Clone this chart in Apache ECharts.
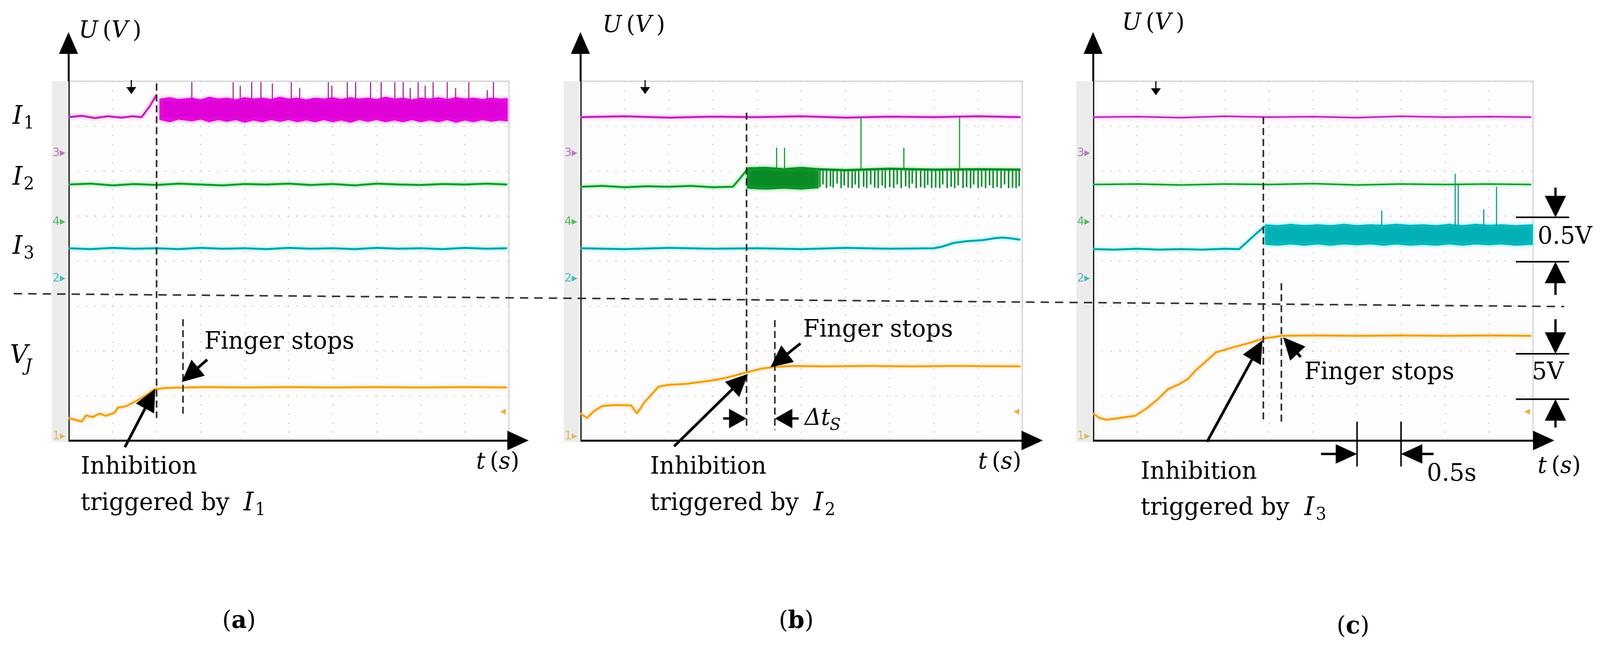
<!DOCTYPE html>
<html><head><meta charset="utf-8">
<script src="https://cdn.jsdelivr.net/npm/echarts/dist/echarts.min.js"></script>
<style>html,body{margin:0;padding:0;background:#fff;overflow:hidden}#wrap{position:absolute;left:0;top:0;width:4204px;height:1662px;transform-origin:0 0}#c{width:4204px;height:1662px}</style>
</head><body><div id="wrap"><div id="c"></div></div>
<script>
// ---------- axis structure (oscilloscope divisions) ----------
const xDivMax = 10;   // horizontal divisions (0.5 s / div)
const yDivMax = 8;    // vertical divisions
const panelNames = ['(a)', '(b)', '(c)'];
const triggerLabels = ['1', '2', '3'];

// ---------- panel (a) ----------
const aI1Line = [[0,7.2],[0.3,7.23],[0.6,7.18],[0.9,7.22],[1.2,7.19],[1.45,7.22],[1.66,7.2],[1.85,7.45],[2.0,7.7]];
const aI1Band = [[2.08,7.15,7.6],[2.3,7.1,7.63],[2.5,7.16,7.59],[2.8,7.12,7.62],[3.0,7.16,7.58],[3.2,7.1,7.64],[3.4,7.15,7.6],[3.6,7.11,7.62],[3.8,7.15,7.58],[4.0,7.09,7.63],[4.2,7.14,7.6],[4.4,7.1,7.62],[4.6,7.15,7.59],[4.8,7.11,7.64],[5.0,7.15,7.6],[5.2,7.1,7.62],[5.4,7.14,7.58],[5.6,7.1,7.62],[5.8,7.15,7.6],[6.0,7.1,7.63],[6.2,7.14,7.59],[6.4,7.09,7.63],[6.6,7.15,7.6],[6.8,7.11,7.62],[7.0,7.15,7.59],[7.2,7.1,7.64],[7.4,7.14,7.6],[7.6,7.1,7.62],[7.8,7.15,7.58],[8.0,7.1,7.62],[8.2,7.14,7.6],[8.4,7.1,7.63],[8.6,7.15,7.59],[8.8,7.09,7.63],[9.0,7.14,7.6],[9.2,7.1,7.62],[9.4,7.15,7.59],[9.6,7.11,7.62],[9.8,7.14,7.6],[9.96,7.12,7.61]];
const aI1Spikes = [[2.8,7.6,7.98],[3.74,7.6,7.98],[3.9,7.6,7.9],[4.16,7.6,7.98],[4.37,7.6,7.98],[4.63,7.6,7.95],[5.06,7.6,7.98],[5.25,7.6,7.85],[5.9,7.6,7.98],[5.98,7.6,7.9],[6.33,7.6,7.98],[6.52,7.6,7.98],[6.86,7.6,7.98],[7.1,7.6,7.98],[7.41,7.6,7.98],[7.6,7.6,7.98],[7.76,7.6,7.85],[7.94,7.6,7.98],[8.1,7.6,7.9],[8.28,7.6,7.98],[8.6,7.6,7.98],[8.79,7.6,7.85],[9.09,7.6,7.98],[9.51,7.6,7.8],[9.65,7.6,7.98]];
const aI2 = [[0,5.7],[0.5,5.72],[1,5.68],[1.5,5.71],[2,5.69],[2.5,5.72],[3,5.7],[3.5,5.68],[4,5.71],[4.5,5.7],[5,5.72],[5.5,5.69],[6,5.71],[6.5,5.68],[7,5.72],[7.5,5.7],[8,5.69],[8.5,5.71],[9,5.7],[9.5,5.72],[9.96,5.7]];
const aI3 = [[0,4.28],[0.5,4.26],[1,4.29],[1.5,4.27],[2,4.28],[2.5,4.26],[3,4.29],[3.5,4.27],[4,4.28],[4.5,4.26],[5,4.29],[5.5,4.27],[6,4.28],[6.5,4.26],[7,4.29],[7.5,4.27],[8,4.28],[8.5,4.26],[9,4.29],[9.5,4.27],[9.96,4.28]];
const aVJ = [[0,0.5],[0.2,0.45],[0.3,0.42],[0.4,0.56],[0.55,0.52],[0.7,0.6],[0.85,0.55],[1.05,0.62],[1.12,0.73],[1.3,0.76],[1.5,0.86],[1.75,1.0],[1.95,1.14],[2.2,1.17],[2.6,1.18],[3.2,1.19],[4,1.18],[5,1.19],[6,1.18],[7,1.19],[8,1.18],[9,1.19],[9.96,1.18]];

// ---------- panel (b) ----------
const bI1 = [[0,7.2],[1,7.22],[2,7.19],[3,7.21],[4,7.2],[5,7.22],[6,7.19],[7,7.21],[8,7.2],[9,7.22],[9.96,7.2]];
const bI2Line = [[0,5.65],[0.5,5.67],[1,5.64],[1.5,5.66],[2,5.65],[2.5,5.67],[3,5.64],[3.45,5.65],[3.6,5.82],[3.77,6.03]];
const bI2Band = [[3.78,5.62,6.07],[4.2,5.6,6.08],[4.6,5.62,6.05],[5.0,5.6,6.08],[5.38,5.63,6.05]];
const bI2Top = [[5.38,6.04],[6,6.02],[7,6.05],[8,6.03],[9,6.04],[9.96,6.03]];
const bI2Comb = [[5.42,5.64],[5.49,5.7],[5.57,5.62],[5.66,5.66],[5.72,5.63],[5.81,5.72],[5.9,5.62],[5.97,5.68],[6.06,5.63],[6.15,5.62],[6.22,5.7],[6.3,5.62],[6.41,5.65],[6.48,5.62],[6.57,5.7],[6.66,5.63],[6.74,5.62],[6.83,5.68],[6.9,5.62],[7.0,5.64],[7.09,5.62],[7.17,5.7],[7.26,5.62],[7.36,5.66],[7.44,5.62],[7.51,5.72],[7.6,5.62],[7.7,5.64],[7.79,5.62],[7.86,5.69],[7.95,5.62],[8.04,5.63],[8.13,5.62],[8.2,5.7],[8.3,5.62],[8.39,5.65],[8.47,5.62],[8.55,5.68],[8.66,5.62],[8.74,5.64],[8.83,5.62],[8.9,5.7],[9.0,5.62],[9.08,5.65],[9.17,5.62],[9.26,5.68],[9.34,5.62],[9.43,5.64],[9.52,5.62],[9.6,5.7],[9.69,5.62],[9.78,5.63],[9.86,5.62],[9.93,5.66]];
const bI2Spikes = [[4.44,6.05,6.52],[4.62,6.05,6.52],[6.35,6.05,7.2],[7.32,6.05,6.52],[8.58,6.05,7.2]];
const bI3 = [[0,4.28],[1,4.26],[2,4.29],[3,4.27],[4,4.28],[5,4.26],[6,4.29],[7,4.27],[8.0,4.28],[8.2,4.32],[8.45,4.4],[8.75,4.44],[9.1,4.46],[9.35,4.5],[9.55,4.52],[9.75,4.5],[9.96,4.47]];
const bVJ = [[0,0.6],[0.15,0.5],[0.3,0.65],[0.5,0.77],[0.8,0.79],[1.15,0.78],[1.22,0.68],[1.28,0.6],[1.45,0.85],[1.77,1.2],[2.0,1.24],[2.4,1.26],[2.7,1.3],[3.07,1.35],[3.4,1.42],[3.77,1.52],[4.1,1.6],[4.4,1.64],[4.8,1.66],[5.5,1.65],[6.5,1.66],[7.5,1.65],[8.5,1.66],[9.96,1.65]];

// ---------- panel (c) ----------
const cI1 = [[0,7.2],[1,7.21],[2,7.19],[3,7.22],[4,7.2],[5,7.21],[6,7.19],[7,7.22],[8,7.2],[9,7.21],[9.96,7.2]];
const cI2 = [[0,5.7],[1,5.71],[2,5.69],[3,5.71],[4,5.7],[5,5.72],[6,5.69],[7,5.71],[8,5.7],[9,5.71],[9.96,5.7]];
const cI3Line = [[0,4.26],[0.5,4.25],[1,4.27],[1.5,4.25],[2,4.26],[2.5,4.25],[3,4.27],[3.32,4.26],[3.5,4.42],[3.7,4.6],[3.9,4.77]];
const cI3Band = [[3.92,4.37,4.8],[4.2,4.35,4.78],[4.5,4.38,4.81],[4.8,4.35,4.78],[5.1,4.38,4.8],[5.4,4.35,4.78],[5.7,4.38,4.81],[6.0,4.36,4.78],[6.3,4.38,4.8],[6.6,4.35,4.79],[6.9,4.38,4.81],[7.2,4.35,4.79],[7.5,4.37,4.8],[7.8,4.35,4.78],[8.1,4.38,4.81],[8.4,4.35,4.78],[8.7,4.38,4.81],[9.0,4.36,4.79],[9.3,4.38,4.8],[9.6,4.35,4.78],[9.98,4.37,4.8]];
const cI3Spikes = [[6.56,4.78,5.12],[8.23,4.78,5.94],[8.3,4.78,5.71],[8.88,4.78,5.15],[9.17,4.78,5.65]];
const cVJ = [[0,0.6],[0.15,0.5],[0.3,0.46],[0.6,0.5],[0.96,0.55],[1.24,0.73],[1.45,0.9],[1.7,1.14],[1.95,1.25],[2.16,1.37],[2.32,1.55],[2.55,1.75],[2.79,1.96],[3.0,2.02],[3.24,2.09],[3.55,2.17],[3.87,2.27],[4.29,2.33],[5,2.34],[6,2.33],[7,2.34],[8,2.33],[9,2.34],[9.96,2.33]];

// ---------- fit the 4204x1662 design to the actual viewport ----------
const W = 4204, H = 1662;
const sx = Math.min(window.innerWidth / W, 1), sy = Math.min(window.innerHeight / H, 1);
if (sx < 1 || sy < 1) document.getElementById('wrap').style.transform = 'scale(' + sx + ',' + sy + ')';

// ---------- layout ----------
const screenLeft = [180, 1525, 2872];
const screenWidth = [1157, 1161, 1156];
const arrowWidth = [1181, 1187, 1184];
const screenTop = 208, screenHeight = 920, arrowTop = 110;

const MAG = '#b82ab0', MAGB = '#e000d8', MAGG = 'rgba(255,80,240,0.7)';
const GRN = '#109a30', GRND = '#0a8a26', GRNG = 'rgba(60,220,90,0.7)';
const CYN = '#00a4a8', CYNG = 'rgba(60,235,240,0.8)';
const ORG = '#f0a018', ORGG = 'rgba(255,200,110,0.8)';

const chart = echarts.init(document.getElementById('c'), null, {renderer: 'canvas', width: W, height: H});

const grids = [], xAxes = [], yAxes = [];
for (let i = 0; i < 3; i++) {
  grids.push({left: screenLeft[i], top: screenTop, width: screenWidth[i], height: screenHeight,
    show: true, backgroundColor: '#fdfdfd', borderColor: '#d2d2d2', borderWidth: 3});
  const sl = {show: true, lineStyle: {color: '#cdcdcd', width: 3, type: [3, 20]}};
  xAxes.push({gridIndex: i, type: 'value', min: 0, max: xDivMax, interval: 1,
    axisLine: {show: false}, axisTick: {show: false}, axisLabel: {show: false}, splitLine: sl});
  yAxes.push({gridIndex: i, type: 'value', min: 0, max: yDivMax, interval: 1,
    axisLine: {show: false}, axisTick: {show: false}, axisLabel: {show: false}, splitLine: sl});
}
for (let i = 0; i < 3; i++) {
  grids.push({left: screenLeft[i], top: arrowTop, width: arrowWidth[i], height: screenTop + screenHeight - arrowTop, show: false});
  const al = {show: true, onZero: false, symbol: ['none', 'triangle'], symbolSize: [50, 56], lineStyle: {color: '#000', width: 5}};
  xAxes.push({gridIndex: 3 + i, type: 'value', min: 0, max: 1, axisLine: al, axisTick: {show: false}, axisLabel: {show: false}, splitLine: {show: false}});
  yAxes.push({gridIndex: 3 + i, type: 'value', min: 0, max: 1, axisLine: al, axisTick: {show: false}, axisLabel: {show: false}, splitLine: {show: false}});
}

function trace(g, data, color, glow, w) {
  return {type: 'line', xAxisIndex: g, yAxisIndex: g, data: data, showSymbol: false, symbol: 'none', silent: true,
    lineStyle: {color: color, width: w || 5, shadowBlur: 10, shadowColor: glow}, z: 3};
}
function band(g, arr, color, glow) {
  return {type: 'custom', xAxisIndex: g, yAxisIndex: g, silent: true, z: 3,
    data: arr, encode: {x: 0, y: [1, 2]},
    renderItem: function (params, api) {
      if (params.dataIndex !== 0) return null;
      const pts = [];
      for (let k = 0; k < arr.length; k++) pts.push(api.coord([arr[k][0], arr[k][1]]));
      for (let k = arr.length - 1; k >= 0; k--) pts.push(api.coord([arr[k][0], arr[k][2]]));
      return {type: 'polygon', shape: {points: pts},
        style: {fill: color, stroke: color, lineWidth: 3, shadowBlur: 10, shadowColor: glow}};
    }};
}
function spikes(g, arr, color, w) {
  return {type: 'custom', xAxisIndex: g, yAxisIndex: g, silent: true, z: 3,
    data: arr, encode: {x: 0, y: [1, 2]},
    renderItem: function (params, api) {
      const p1 = api.coord([api.value(0), api.value(1)]), p2 = api.coord([api.value(0), api.value(2)]);
      return {type: 'line', shape: {x1: p1[0], y1: p1[1], x2: p2[0], y2: p2[1]}, style: {stroke: color, lineWidth: w}};
    }};
}

const series = [
  trace(0, aI1Line, MAG, MAGG), band(0, aI1Band, MAGB, MAGG), spikes(0, aI1Spikes, '#a02898', 3),
  trace(0, aI2, GRN, GRNG), trace(0, aI3, CYN, CYNG), trace(0, aVJ, ORG, ORGG),
  trace(1, bI1, MAG, MAGG), trace(1, bI2Line, GRN, GRNG), band(1, bI2Band, GRND, GRNG), trace(1, bI2Top, GRND, GRNG, 6),
  spikes(1, bI2Comb.map(d => [d[0], d[1], 6.04]), GRND, 4), spikes(1, bI2Spikes, GRN, 3),
  trace(1, bI3, CYN, CYNG), trace(1, bVJ, ORG, ORGG),
  trace(2, cI1, MAG, MAGG, 4), trace(2, cI2, GRN, GRNG, 4), trace(2, cI3Line, CYN, CYNG),
  band(2, cI3Band, '#00b0b4', CYNG), spikes(2, cI3Spikes, '#109898', 3), trace(2, cVJ, ORG, ORGG)
];

chart.setOption({animation: false, backgroundColor: '#fff', grid: grids, xAxis: xAxes, yAxis: yAxes, series: series});

// ---------- annotations ----------
const SERIF = '"DejaVu Serif"';
const els = [];
function px(g, pt) { return chart.convertToPixel({gridIndex: g}, pt); }
function text(x, y, t, font, fill, align) {
  els.push({type: 'text', z: 100, style: {text: t, x: x, y: y, font: font, fill: fill || '#000',
    align: align || 'left', verticalAlign: 'middle', textAlign: align || 'left', textVerticalAlign: 'middle'}});
}
function rich(x, y, t, richDef, align) {
  els.push({type: 'text', z: 100, style: {text: t, x: x, y: y, rich: richDef, fill: '#000',
    align: align || 'left', verticalAlign: 'middle', textAlign: align || 'left', textVerticalAlign: 'middle'}});
}
function line(p, q, w, dash, color) {
  els.push({type: 'line', z: 99, shape: {x1: p[0], y1: p[1], x2: q[0], y2: q[1]},
    style: {stroke: color || '#000', lineWidth: w, lineDash: dash || null}});
}
function arrow(t, h, headL, headW, lw) {
  const dx = h[0] - t[0], dy = h[1] - t[1], L = Math.hypot(dx, dy), ux = dx / L, uy = dy / L;
  const bx = h[0] - ux * headL, by = h[1] - uy * headL, nx = -uy, ny = ux;
  line(t, [bx + ux * 4, by + uy * 4], lw);
  els.push({type: 'polygon', z: 100, shape: {points: [[h[0], h[1]], [bx + nx * headW / 2, by + ny * headW / 2], [bx - nx * headW / 2, by - ny * headW / 2]]}, style: {fill: '#000'}});
}
const DASHV = [18, 10];

// vertical dashed markers [panel, x, yTop, yBottom]
const vMarks = [[0, 2.0, 7.95, 0.5], [0, 2.6, 2.7, 0.55], [1, 3.76, 7.3, 0.23], [1, 4.4, 2.68, 0.23], [2, 3.87, 7.2, 0.42], [2, 4.28, 3.5, 0.42]];
vMarks.forEach(m => line(px(m[0], [m[1], m[2]]), px(m[0], [m[1], m[3]]), 4, DASHV, '#222'));

// separator dashed line across the figure
line([36, 752], [4110, 785], 4, [22, 16], '#333');

// big arrows [panel, tail, tip]
const bigArrows = [[0, [1.28, -0.15], [1.97, 1.15]], [0, [3.15, 1.8], [2.57, 1.3]],
  [1, [2.12, -0.13], [3.79, 1.48]], [1, [4.98, 2.16], [4.3, 1.63]],
  [2, [2.59, -0.03], [3.85, 2.23]], [2, [4.72, 1.86], [4.32, 2.3]]];
bigArrows.forEach(a => arrow(px(a[0], a[1]), px(a[0], a[2]), 57, 54, 7));

// delta t arrows (b)
arrow(px(1, [3.23, 0.49]), px(1, [3.76, 0.49]), 46, 50, 6);
arrow(px(1, [4.94, 0.49]), px(1, [4.4, 0.49]), 46, 50, 6);

// 0.5 s scale (c)
line(px(2, [6, 0.42]), px(2, [6, -0.58]), 4);
line(px(2, [7, 0.42]), px(2, [7, -0.58]), 4);
arrow(px(2, [5.18, -0.3]), px(2, [6.0, -0.3]), 56, 50, 6);
arrow(px(2, [7.74, -0.3]), px(2, [7.0, -0.3]), 56, 50, 6);

// voltage brackets (c)
[4.97, 3.98, 1.93, 0.92].forEach(v => line(px(2, [9.61, v]), px(2, [10.82, v]), 4));
arrow(px(2, [10.51, 5.63]), px(2, [10.51, 4.97]), 55, 56, 6);
arrow(px(2, [10.51, 3.24]), px(2, [10.51, 3.98]), 55, 56, 6);
arrow(px(2, [10.51, 2.7]), px(2, [10.51, 1.93]), 55, 56, 6);
arrow(px(2, [10.51, 0.29]), px(2, [10.51, 0.92]), 55, 56, 6);

// trigger arrows at top of screens
[[345, 205], [1695, 205], [3037, 208]].forEach(p => arrow([p[0], p[1]], [p[0], p[1] + 36], 18, 26, 3));

// scope left strip + channel markers
screenLeft.forEach((l, i) => {
  els.push({type: 'rect', z: 1, shape: {x: l - 44, y: screenTop, width: 44, height: screenHeight + 4}, style: {fill: '#ececec'}});
  text(l - 42, 392, '3\u25B8', '30px "DejaVu Sans"', '#b878b8');
  text(l - 42, 568, '4\u25B8', '30px "DejaVu Sans"', '#58b868');
  text(l - 42, 713, '2\u25B8', '30px "DejaVu Sans"', '#48b8c0');
  text(l - 42, 1117, '1\u25B8', '30px "DejaVu Sans"', '#e0b868');
  text(l + screenWidth[i] - 8, 1054, '\u25C2', '30px "DejaVu Sans"', '#e8b040', 'right');
});

// axis titles
const R = {i: {font: 'italic 60px ' + SERIF}, r: {font: '60px ' + SERIF}};
rich(207, 80, '{i|U}{r|\u2009(}{i|V}{r|\u2009)}', R);
rich(1583, 66, '{i|U}{r|\u2009(}{i|V}{r|\u2009)}', R);
rich(2948, 60, '{i|U}{r|\u2009(}{i|V}{r|\u2009)}', R);
rich(1251, 1184, '{i|t}{r|\u2009(}{i|s}{r|)}', R);
rich(2570, 1184, '{i|t}{r|\u2009(}{i|s}{r|)}', R);
rich(4040, 1195, '{i|t}{r|\u2009(}{i|s}{r|)}', R);

// channel labels (panel a)
const IF = 'italic 66px ' + SERIF, SF = '44px ' + SERIF;
[[300, '1'], [456, '2'], [633, '3']].forEach(d => { text(33, d[0], 'I', IF); text(62, d[0] + 18, d[1], SF); });
text(26, 912, 'V', IF); text(66, 940, 'J', 'italic 44px ' + SERIF);

// annotation texts
const TF = '62px ' + SERIF;
text(537, 877, 'Finger stops', TF);
text(2110, 846, 'Finger stops', TF);
text(3427, 955, 'Finger stops', TF);
const inhib = [[212, 640], [1708, 2137], [2997, 3427]];
const inhibY = [[1197, 1290], [1197, 1290], [1210, 1302]];
inhib.forEach((d, i) => {
  text(d[0], inhibY[i][0], 'Inhibition', TF);
  text(d[0], inhibY[i][1], 'triggered by', TF);
  text(d[1], inhibY[i][1], 'I', IF);
  text(d[1] + 30, inhibY[i][1] + 18, triggerLabels[i], SF);
});
text(2114, 1072, '\u0394t', 'italic 60px ' + SERIF);
text(2180, 1090, 'S', 'italic 42px ' + SERIF);
text(4040, 608, '0.5V', TF);
text(4025, 955, '5V', TF);
text(3749, 1215, '0.5s', TF);

// panel captions
const PR = {r: {font: '62px ' + SERIF}, b: {font: 'bold 62px ' + SERIF}};
[[628, 1592], [2092, 1592], [3555, 1606]].forEach((p, i) => {
  const letter = panelNames[i].replace(/[()]/g, '');
  rich(p[0], p[1], '{r|(}{b|' + letter + '}{r|)}', PR, 'center');
});

chart.setOption({graphic: {elements: els}});
</script></body></html>
